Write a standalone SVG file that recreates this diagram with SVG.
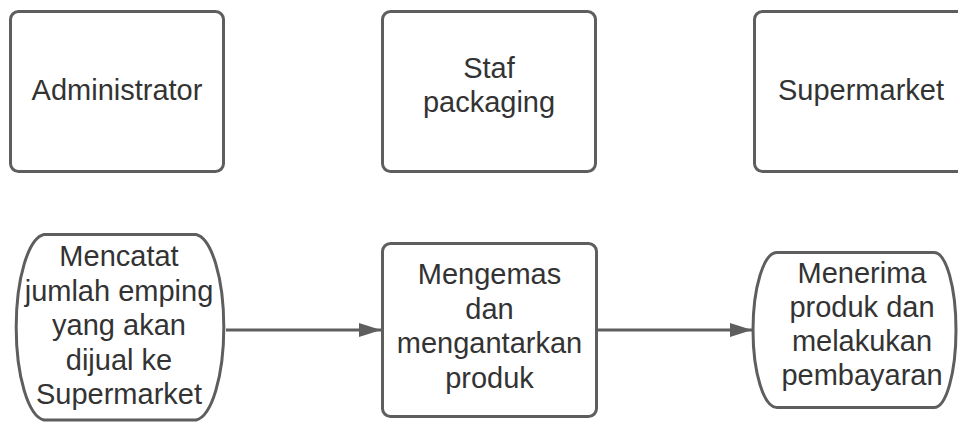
<svg xmlns="http://www.w3.org/2000/svg" width="958" height="423" viewBox="0 0 958 423">
<style>
.box{fill:#fff;stroke:#5e5e5e;stroke-width:3}
.t{font-family:"Liberation Sans",Arial,sans-serif;font-size:29px;fill:#333;text-anchor:middle}
.edge{stroke:#5e5e5e;stroke-width:3;fill:none}
</style>
<defs>
<marker id="arr" markerWidth="24" markerHeight="16" refX="22" refY="7" orient="auto" markerUnits="userSpaceOnUse">
<path d="M0,0 L22,7 L0,14 Z" fill="#5e5e5e"/>
</marker>
</defs>
<rect width="958" height="423" fill="#fff"/>
<g id="administrator">
<rect class="box" x="10.5" y="11.5" width="213" height="160" rx="8"/>
<text class="t" x="117" y="100">Administrator</text>
</g>
<g id="staf-packaging">
<rect class="box" x="382.5" y="11.5" width="213" height="160" rx="8"/>
<text class="t" x="489" y="78">Staf</text>
<text class="t" x="489" y="112">packaging</text>
</g>
<g id="supermarket">
<rect class="box" x="754.5" y="11.5" width="213" height="160" rx="8"/>
<text class="t" x="861" y="100">Supermarket</text>
</g>
<g id="mencatat">
<path class="box" d="M44,234.5 H196 A30,93 0 0 1 196,420 H44 A30,93 0 0 1 44,234.5 Z"/>
<text class="t" x="119" y="266">Mencatat</text>
<text class="t" x="119" y="301">jumlah emping</text>
<text class="t" x="119" y="335">yang akan</text>
<text class="t" x="119" y="370">dijual ke</text>
<text class="t" x="119" y="404">Supermarket</text>
</g>
<g id="mengemas">
<rect class="box" x="382.5" y="243.5" width="214" height="173" rx="8"/>
<text class="t" x="489.5" y="284">Mengemas</text>
<text class="t" x="489.5" y="319">dan</text>
<text class="t" x="489.5" y="353">mengantarkan</text>
<text class="t" x="489.5" y="388">produk</text>
</g>
<g id="menerima">
<path class="box" d="M777,252.5 H934 A22,77.5 0 0 1 934,407.5 H777 A24,77.5 0 0 1 777,252.5 Z"/>
<text class="t" x="862" y="283">Menerima</text>
<text class="t" x="862" y="317">produk dan</text>
<text class="t" x="862" y="351">melakukan</text>
<text class="t" x="862" y="385">pembayaran</text>
</g>
<g id="connectors">
<line class="edge" x1="226" y1="330" x2="381" y2="330" marker-end="url(#arr)"/>
<line class="edge" x1="598" y1="330" x2="752" y2="330" marker-end="url(#arr)"/>
</g>
</svg>
